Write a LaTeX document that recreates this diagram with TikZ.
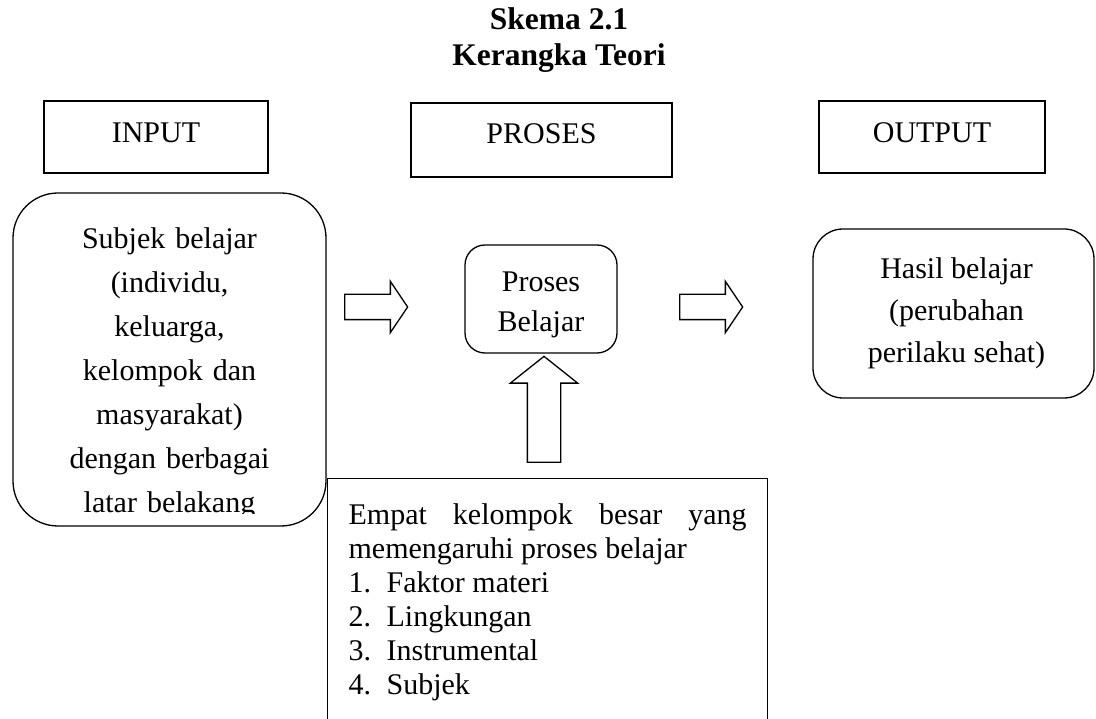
\documentclass[tikz,border=0pt]{standalone}
\usepackage{fontspec}
\setmainfont{Liberation Serif}
\usetikzlibrary{shapes.arrows}

\tikzset{
  judul/.style={anchor=north,inner sep=0pt,align=center,font=\bfseries\fontsize{31.5}{36}\selectfont},
  headbox/.style={draw,line width=1.3pt,minimum height=72pt,text height=20pt,text depth=9pt,font=\fontsize{30}{34}\selectfont},
  roundbox/.style={draw,line width=1.3pt,inner sep=0pt},
  boxtext/.style={inner sep=0pt,anchor=north,align=center,font=\fontsize{30}{44}\selectfont},
  blockarrow/.style={single arrow,draw,line width=1.3pt,anchor=tail,inner sep=#1,single arrow head extend=#1+1pt}
}

\begin{document}
\begin{tikzpicture}[x=1pt,y=-1pt]
\clip (0,0) rectangle (1096,719);

% judul
\node[judul] (judul) at (559,7) {Skema 2.1\\Kerangka Teori};

% kepala kolom
\node[headbox,minimum width=224pt] (input) at (156,137) {INPUT};
\node[headbox,minimum width=261pt,minimum height=74pt,text depth=13pt] (proses) at (541.5,140) {PROSES};
\node[headbox,minimum width=226pt] (output) at (932,137) {OUTPUT};

% kotak isi
\node[roundbox,rounded corners=45pt,minimum width=313pt,minimum height=333pt] (subjek) at (169.5,359.5) {};
\begin{scope}
  \clip ([xshift=5pt]subjek.north west) rectangle ([yshift=13pt]subjek.south east);
  \node[boxtext,text width=300pt] (subjektxt) at ([yshift=-35pt]subjek.north) {Subjek belajar\\(individu,\\keluarga,\\kelompok dan\\masyarakat)\\dengan berbagai\\latar belakang};
\end{scope}

\node[roundbox,rounded corners=20pt,minimum width=152pt,minimum height=108pt] (belajar) at (541,299) {};
\begin{scope}
  \clip (belajar.north west) rectangle ([yshift=16pt]belajar.south east);
  \node[boxtext,font=\fontsize{30}{40}\selectfont] (belajartxt) at ([yshift=-27pt]belajar.north) {Proses\\Belajar};
\end{scope}

\node[roundbox,rounded corners=30pt,minimum width=281pt,minimum height=169pt] (hasil) at (953.5,313.5) {};
\node[boxtext,font=\fontsize{30}{42}\selectfont] (hasiltxt) at ([yshift=-29pt,xshift=3pt]hasil.north) {Hasil belajar\\(perubahan\\perilaku sehat)};

% faktor yang memengaruhi
\node[draw,fill=white,line width=1.3pt,anchor=north west,text width=398pt,inner xsep=21pt,inner ysep=25pt,align=justify,font=\fontsize{30}{34}\selectfont] (faktor) at (327,478) {%
Empat kelompok besar yang\linebreak memengaruhi proses belajar\par
\makebox[38pt][l]{1.}Faktor materi\par
\makebox[38pt][l]{2.}Lingkungan\par
\makebox[38pt][l]{3.}Instrumental\par
\makebox[38pt][l]{4.}Subjek};

% panah
\node[blockarrow=12pt,minimum height=63pt,single arrow tip angle=112] (panah1) at (344,307) {};
\node[blockarrow=12pt,minimum height=63pt,single arrow tip angle=112] (panah2) at (679,307) {};
\node[blockarrow=16pt,minimum height=106pt,single arrow tip angle=103,rotate=90] (panah3) at (544,463) {};
\end{tikzpicture}
\end{document}
